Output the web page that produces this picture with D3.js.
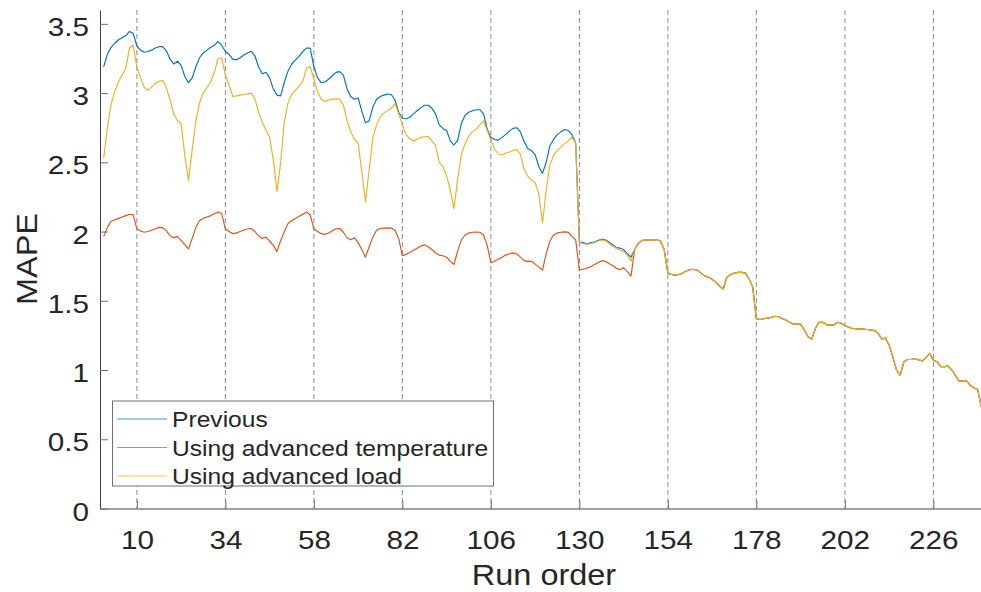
<!DOCTYPE html>
<html>
<head>
<meta charset="utf-8">
<script src="https://cdn.jsdelivr.net/npm/d3@7"></script>
<style>
  body { margin: 0; background: #fff; }
  text { font-family: "Liberation Sans", Arial, Helvetica, sans-serif; fill: #262626; }
</style>
</head>
<body>
<div id="chart"></div>
<script>
// MAPE per run, runs 1..144 (the three models differ here)
var prevHead = [
  3.19, 3.28, 3.33, 3.36, 3.385, 3.40, 3.415, 3.445, 3.43, 3.34, 3.31, 3.295,
  3.30, 3.31, 3.325, 3.335, 3.335, 3.305, 3.245, 3.21, 3.23, 3.20, 3.12, 3.075,
  3.11, 3.19, 3.255, 3.29, 3.31, 3.33, 3.345, 3.372, 3.345, 3.30, 3.28, 3.245,
  3.24, 3.255, 3.275, 3.29, 3.302, 3.27, 3.19, 3.14, 3.15, 3.11, 3.03, 2.985,
  2.98, 3.08, 3.16, 3.21, 3.24, 3.265, 3.30, 3.325, 3.325, 3.19, 3.11, 3.075,
  3.08, 3.10, 3.125, 3.15, 3.155, 3.13, 3.03, 2.975, 2.955, 2.965, 2.87, 2.785,
  2.80, 2.90, 2.955, 2.975, 2.985, 2.993, 2.99, 2.95, 2.86, 2.82, 2.815, 2.825,
  2.85, 2.872, 2.895, 2.912, 2.912, 2.89, 2.85, 2.77, 2.745, 2.73, 2.655, 2.625,
  2.66, 2.78, 2.84, 2.862, 2.872, 2.88, 2.88, 2.85, 2.74, 2.68, 2.665, 2.66,
  2.68, 2.70, 2.725, 2.745, 2.75, 2.72, 2.65, 2.60, 2.585, 2.555, 2.47, 2.42,
  2.50, 2.62, 2.665, 2.70, 2.72, 2.737, 2.73, 2.70, 2.64, 1.925, 1.92, 1.91,
  1.918, 1.925, 1.935, 1.945, 1.94, 1.925, 1.905, 1.885, 1.88, 1.87, 1.84, 1.815
];
var tempHead = [
  1.965, 2.03, 2.075, 2.085, 2.095, 2.105, 2.115, 2.125, 2.12, 2.02, 2.005, 1.995,
  2.0, 2.01, 2.02, 2.03, 2.028, 2.005, 1.97, 1.955, 1.965, 1.935, 1.905, 1.875,
  1.95, 2.03, 2.08, 2.095, 2.105, 2.115, 2.128, 2.142, 2.13, 2.02, 2.0, 1.985,
  1.99, 2.0, 2.01, 2.02, 2.022, 2.0, 1.97, 1.95, 1.96, 1.93, 1.90, 1.855,
  1.935, 2.0, 2.058, 2.08, 2.095, 2.11, 2.125, 2.142, 2.12, 2.02, 2.0, 1.985,
  1.98, 1.99, 2.005, 2.02, 2.022, 1.995, 1.955, 1.94, 1.955, 1.92, 1.87, 1.815,
  1.89, 1.96, 2.01, 2.022, 2.025, 2.027, 2.025, 2.01, 1.95, 1.825, 1.835, 1.85,
  1.865, 1.88, 1.895, 1.905, 1.89, 1.87, 1.845, 1.83, 1.825, 1.815, 1.785, 1.762,
  1.86, 1.94, 1.975, 1.99, 1.995, 1.997, 1.995, 1.975, 1.90, 1.775, 1.785, 1.80,
  1.815, 1.83, 1.84, 1.846, 1.84, 1.815, 1.79, 1.785, 1.785, 1.765, 1.745, 1.722,
  1.84, 1.93, 1.975, 1.99, 1.995, 1.998, 1.995, 1.965, 1.94, 1.722, 1.728, 1.735,
  1.745, 1.76, 1.775, 1.79, 1.785, 1.77, 1.755, 1.735, 1.725, 1.74, 1.71, 1.678
];
var loadHead = [
  2.53, 2.75, 2.92, 3.01, 3.08, 3.13, 3.18, 3.325, 3.345, 3.19, 3.11, 3.04,
  3.02, 3.045, 3.07, 3.085, 3.092, 3.04, 2.95, 2.85, 2.80, 2.78, 2.55, 2.37,
  2.59, 2.80, 2.93, 3.0, 3.04, 3.08, 3.15, 3.25, 3.255, 3.13, 3.06, 2.975,
  2.98, 2.985, 2.99, 2.995, 3.0, 2.96, 2.86, 2.79, 2.735, 2.68, 2.52, 2.29,
  2.50, 2.80, 2.93, 2.99, 3.02, 3.05, 3.085, 3.18, 3.19, 3.10, 3.01, 2.955,
  2.94, 2.95, 2.955, 2.96, 2.955, 2.915, 2.80, 2.72, 2.665, 2.64, 2.43, 2.214,
  2.45, 2.68, 2.77, 2.83, 2.855, 2.875, 2.89, 2.925, 2.85, 2.77, 2.70, 2.67,
  2.655, 2.665, 2.68, 2.685, 2.688, 2.655, 2.62, 2.50, 2.47, 2.40, 2.30, 2.166,
  2.38, 2.56, 2.635, 2.69, 2.72, 2.74, 2.77, 2.80, 2.73, 2.66, 2.595, 2.56,
  2.555, 2.565, 2.575, 2.585, 2.592, 2.56, 2.45, 2.40, 2.37, 2.355, 2.27, 2.062,
  2.30, 2.48, 2.55, 2.585, 2.61, 2.635, 2.655, 2.683, 2.635, 1.92, 1.912, 1.908,
  1.912, 1.92, 1.93, 1.94, 1.935, 1.915, 1.895, 1.88, 1.865, 1.855, 1.83, 1.785
];
// runs 145..239, the same for all three
var tail = [
  1.87, 1.915, 1.935, 1.94, 1.94, 1.94, 1.942, 1.93, 1.87, 1.70, 1.69, 1.685,
  1.69, 1.70, 1.715, 1.725, 1.728, 1.72, 1.70, 1.68, 1.67, 1.655, 1.635, 1.605,
  1.585, 1.67, 1.69, 1.70, 1.705, 1.705, 1.70, 1.66, 1.60, 1.37, 1.365, 1.37,
  1.375, 1.38, 1.388, 1.385, 1.372, 1.362, 1.345, 1.332, 1.335, 1.33, 1.29, 1.24,
  1.222, 1.30, 1.345, 1.345, 1.328, 1.324, 1.325, 1.345, 1.338, 1.322, 1.31, 1.30,
  1.298, 1.297, 1.295, 1.293, 1.29, 1.285, 1.265, 1.225, 1.23, 1.18, 1.095, 1.00,
  0.963, 1.06, 1.076, 1.077, 1.079, 1.075, 1.065, 1.09, 1.12, 1.07, 1.06, 1.025,
  1.025, 1.028, 1.0, 0.96, 0.918, 0.922, 0.922, 0.89, 0.87, 0.86, 0.734
];

var xTicks = [10, 34, 58, 82, 106, 130, 154, 178, 202, 226];
var yTicks = [0, 0.5, 1, 1.5, 2, 2.5, 3, 3.5];
var seriesNames = ["Previous", "Using advanced temperature", "Using advanced load"];
var seriesColors = ["#0072BD", "#D95319", "#EDB120"];

var series = [prevHead.concat(tail), tempHead.concat(tail), loadHead.concat(tail)];

var width = 981, height = 592;
var SX = 1.12; // text in the picture is a bit wider than plain Arial

var x = d3.scaleLinear().domain([0, 240]).range([100, 985]);
var y = d3.scaleLinear().domain([0, 3.6]).range([508.5, 10]);

var svg = d3.select("#chart").append("svg")
  .attr("width", width)
  .attr("height", height);

// dashed lines at each x tick
svg.append("g")
  .selectAll("line")
  .data(xTicks)
  .enter()
  .append("line")
  .attr("x1", d => x(d)).attr("x2", d => x(d))
  .attr("y1", y(3.6)).attr("y2", y(0))
  .attr("stroke", "#8c8c8c")
  .attr("stroke-width", 1)
  .attr("stroke-dasharray", "5,3");

// the three curves, yellow drawn last so it sits on top
var line = d3.line()
  .x((d, i) => x(i + 1))
  .y(d => y(d));

svg.append("g")
  .selectAll("path")
  .data(series)
  .enter()
  .append("path")
  .attr("d", line)
  .attr("fill", "none")
  .attr("stroke", (d, i) => seriesColors[i])
  .attr("stroke-width", 1.15)
  .attr("stroke-linejoin", "round");

// axes, ticks pointing inward like matlab
var xAxis = d3.axisBottom(x)
  .tickValues(xTicks)
  .tickSize(-8)
  .tickSizeOuter(0)
  .tickFormat(d3.format("d"));

var gx = svg.append("g")
  .attr("transform", "translate(0," + y(0) + ")")
  .call(xAxis);
gx.selectAll("text")
  .attr("y", 0).attr("dy", null)
  .attr("font-size", 26.5)
  .attr("transform", "translate(0,40) scale(" + SX + ",1)");

var yAxis = d3.axisLeft(y)
  .tickValues(yTicks)
  .tickSize(-8)
  .tickSizeOuter(0)
  .tickFormat(d => String(d));

var gy = svg.append("g")
  .attr("transform", "translate(" + x(0) + ",0)")
  .call(yAxis);
gy.selectAll("text")
  .attr("x", 0).attr("dy", "0.44em")
  .attr("font-size", 26.5)
  .attr("transform", "translate(-11,0) scale(" + SX + ",1)");

svg.selectAll(".domain").attr("stroke", "#404040").attr("stroke-width", 1);
svg.selectAll(".tick line").attr("stroke", "#707070").attr("stroke-width", 1);
svg.selectAll(".tick text").attr("fill", "#262626").attr("font-family", null);

// axis titles
svg.append("text")
  .attr("text-anchor", "middle")
  .attr("font-size", 29)
  .attr("transform", "translate(544,585) scale(" + SX + ",1)")
  .text("Run order");

svg.append("text")
  .attr("text-anchor", "middle")
  .attr("font-size", 29)
  .attr("transform", "translate(37,259) rotate(-90) scale(" + SX + ",1)")
  .text("MAPE");

// legend
var legend = svg.append("g");
legend.append("rect")
  .attr("x", 112.5).attr("y", 401)
  .attr("width", 381).attr("height", 85)
  .attr("fill", "#fff")
  .attr("stroke", "#707070")
  .attr("stroke-width", 1);

var rowY = [419, 447.5, 476];
seriesNames.forEach(function (name, i) {
  legend.append("line")
    .attr("x1", 117).attr("x2", 167)
    .attr("y1", rowY[i]).attr("y2", rowY[i])
    .attr("stroke", seriesColors[i])
    .attr("stroke-width", 1)
    .attr("opacity", 0.75);
  legend.append("text")
    .attr("font-size", 22)
    .attr("transform", "translate(172," + (rowY[i] + 8) + ") scale(" + SX + ",1)")
    .text(name);
});
</script>
</body>
</html>
